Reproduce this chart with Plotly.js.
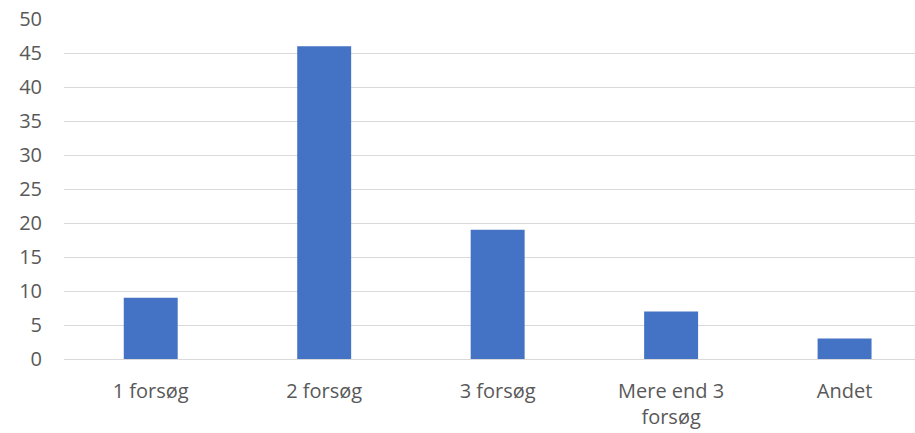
<!DOCTYPE html>
<html>
<head>
<meta charset="utf-8">
<script src="https://cdn.plot.ly/plotly-3.0.1.min.js"></script>
<style>html,body{margin:0;padding:0;background:#fff;}#chart{width:915px;height:433px;}</style>
</head>
<body>
<div id="chart"></div>
<script>
const categories = ["1 forsøg", "2 forsøg", "3 forsøg", "Mere end 3<br>forsøg", "Andet"];
const values = [9, 46, 19, 7, 3];
const yTicks = [0, 5, 10, 15, 20, 25, 30, 35, 40, 45, 50];

const data = [{
  type: "bar",
  x: categories,
  y: values,
  marker: {color: "#4472C4"},
  hoverinfo: "x+y"
}];

const layout = {
  width: 915,
  height: 433,
  margin: {l: 64, r: 0, t: 19, b: 74},
  paper_bgcolor: "#ffffff",
  plot_bgcolor: "#ffffff",
  bargap: 0.689,
  showlegend: false,
  font: {family: "'Open Sans', Lato, sans-serif", size: 20, color: "#595959"},
  xaxis: {
    range: [-0.5, 4.406],
    showgrid: false,
    showline: false,
    ticks: "",
    tickfont: {size: 20, color: "#595959"},
    ticklabelstandoff: 18
  },
  yaxis: {
    range: [0, 50],
    tickvals: yTicks,
    showgrid: true,
    gridcolor: "#d9d9d9",
    gridwidth: 1,
    zeroline: true,
    zerolinecolor: "#d9d9d9",
    zerolinewidth: 1,
    showline: false,
    ticks: "",
    tickfont: {size: 20, color: "#595959"},
    ticklabelstandoff: 21
  }
};

Plotly.newPlot("chart", data, layout, {displayModeBar: false, staticPlot: true});
</script>
</body>
</html>
